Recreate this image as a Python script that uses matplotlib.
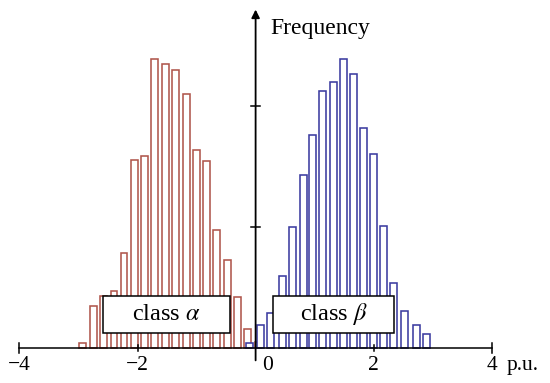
"""
Two-class histogram sketch: class alpha (red) vs class beta (blue)
on a per-unit axis with a hand-drawn style frequency arrow.
"""

import matplotlib
matplotlib.use("Agg")

import matplotlib.pyplot as plt
from matplotlib.patches import Rectangle

# --- data (bin centres in p.u., counts) ---
alpha_centers = [-2.93, -2.75, -2.58, -2.40, -2.23, -2.05, -1.88, -1.71, -1.53,
                 -1.36, -1.17, -1.00, -0.83, -0.66, -0.48, -0.31, -0.14, 0.04]
alpha_counts = [4, 35, 43, 47, 79, 156, 159, 239, 235,
                230, 210, 164, 155, 98, 73, 42, 16, 5]

beta_centers = [-0.10, 0.08, 0.25, 0.45, 0.63, 0.81, 0.97, 1.14, 1.32, 1.49,
                1.66, 1.83, 2.00, 2.17, 2.34, 2.52, 2.72, 2.90]
beta_counts = [4, 19, 29, 60, 100, 143, 176, 213, 220, 239,
               227, 182, 161, 101, 54, 31, 19, 12]

x_ticks = [-4, -2, 0, 2, 4]
y_ticks = [100, 200]

RED = "#b0564c"
BLUE = "#3c3ca0"


def draw_axes(ax):
    """Plain arrow-style axes through the origin."""
    ax.plot([-4, 4], [0, 0], color="black", lw=1.1, zorder=4)
    ax.annotate("", xy=(0, 280), xytext=(0, -10),
                arrowprops=dict(arrowstyle="-|>", color="black", lw=1.3,
                                mutation_scale=12, shrinkA=0, shrinkB=0),
                zorder=4)

    for t in x_ticks:
        if t == 0:
            continue
        size = 4 if abs(t) == 4 else 2.5
        ax.plot([t, t], [-size, size], color="black", lw=1.1, zorder=4)
        label = f"\u2212{abs(t)}" if t < 0 else str(t)
        ax.text(t, -14, label, ha="center", va="center", fontsize=15.5)
    ax.text(0.2, -14, "0", ha="center", va="center", fontsize=15.5)
    ax.text(4.25, -14, "p.u.", ha="left", va="center", fontsize=15.5)

    for t in y_ticks:
        ax.plot([-0.07, 0.07], [t, t], color="black", lw=1.1, zorder=4)

    ax.text(1.1, 264, "Frequency", ha="center", va="center", fontsize=17)


def draw_label(ax, x0, x1, text):
    box = Rectangle((x0, 12.4), x1 - x0, 31, facecolor="white",
                    edgecolor="black", lw=1.1, zorder=5)
    ax.add_patch(box)
    ax.text((x0 + x1) / 2, 28, text, ha="center", va="center",
            fontsize=17.5, zorder=6)


def main():
    plt.rcParams["font.family"] = ["Liberation Serif", "DejaVu Serif"]
    plt.rcParams["mathtext.fontset"] = "stix"

    fig = plt.figure(figsize=(5.5, 3.83), dpi=100)
    ax = fig.add_axes([0, 0, 1, 1])
    ax.set_xlim(-4.329, 4.986)
    ax.set_ylim(-28.7, 287.9)
    ax.axis("off")

    ax.bar(alpha_centers, alpha_counts, width=0.115, facecolor="white",
           edgecolor=RED, lw=1.15, zorder=2)
    ax.bar(beta_centers, beta_counts, width=0.12, facecolor="white",
           edgecolor=BLUE, lw=1.15, zorder=2)

    draw_axes(ax)
    draw_label(ax, -2.59, -0.43, r"class $\alpha$")
    draw_label(ax, 0.30, 2.35, r"class $\beta$")

    fig.savefig("out.png", dpi=100)
    plt.close(fig)


if __name__ == "__main__":
    main()
